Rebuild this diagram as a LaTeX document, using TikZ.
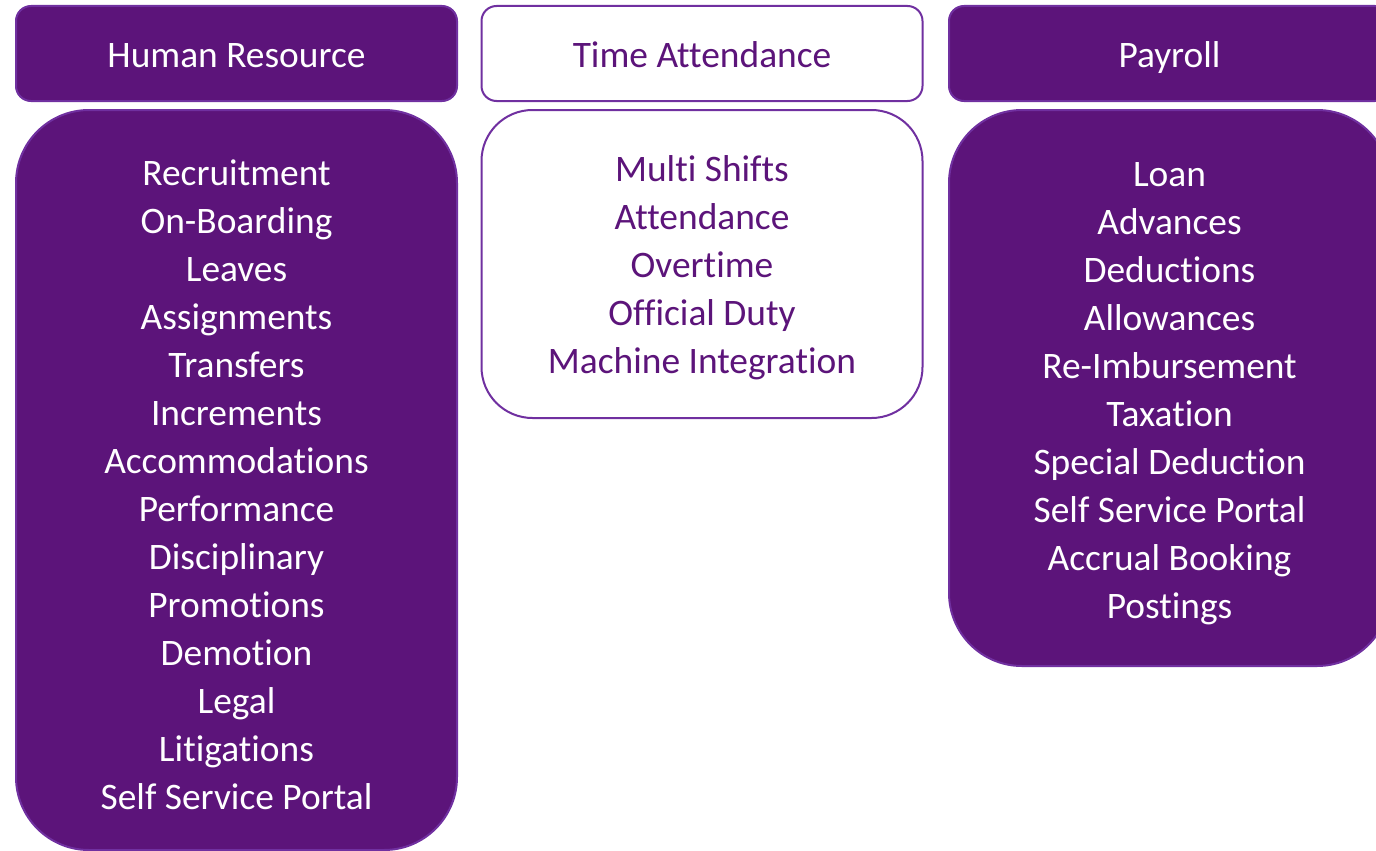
\documentclass[tikz,border=0pt]{standalone}
\usepackage{fontspec}
\setmainfont{Carlito}[Ligatures = NoCommon]
\usetikzlibrary{positioning}
\definecolor{plum}{RGB}{92,20,122}
\definecolor{plumline}{RGB}{112,48,160}

\begin{document}
\begin{tikzpicture} [
    x = 1pt, y = -1pt,
    inner sep = 0,
    every node/.style = { font = \fontsize{37.4}{48}\selectfont },
    solidbox/.style = { draw = plumline, line width = 2pt, fill = plum, text = white, minimum width = 441pt },
    hollowbox/.style = { draw = plumline, line width = 2pt, fill = white, text = plum, minimum width = 441pt },
    head/.style = { rounded corners = 15pt, minimum height = 95pt, text height = 27pt, text depth = 0pt },
    item/.style = { anchor = base }
    ]

    \useasboundingbox (0,0) rectangle (1376,851);
    \clip (0,0) rectangle (1376,851);

    % headers
    \node[solidbox, head] (hrhead) at (236.5, 53.5) {Human Resource};
    \node[hollowbox, head] (tahead) at (702, 53.5) {Time Attendance};
    \node[solidbox, head] (payhead) at (1169.5, 53.5) {Payroll};

    % bodies
    \node[solidbox, rounded corners = 73pt, minimum height = 740pt] (hrbody) at (236.5, 480) {};
    \node[hollowbox, rounded corners = 51pt, minimum height = 308pt] (tabody) at (702, 264) {};
    \node[solidbox, rounded corners = 73pt, minimum height = 556pt] (paybody) at (1169.5, 388) {};

    \foreach \txt [count = \i] in {Recruitment, On-Boarding, Leaves, Assignments, Transfers, Increments, Accommodations, Performance, Disciplinary, Promotions, Demotion, Legal, Litigations, Self Service Portal}
        \node[item, text = white] (hr\i) at (236.5, 137 + 48*\i) {\txt};

    \foreach \txt [count = \i] in {Multi Shifts, Attendance, Overtime, Official Duty, Machine Integration}
        \node[item, text = plum] (ta\i) at (702, 133.5 + 48*\i) {\txt};

    \foreach \txt [count = \i] in {Loan, Advances, Deductions, Allowances, Re-Imbursement, Taxation, Special Deduction, Self Service Portal, Accrual Booking, Postings}
        \node[item, text = white] (pay\i) at (1169.5, 138 + 48*\i) {\txt};
\end{tikzpicture}
\end{document}
